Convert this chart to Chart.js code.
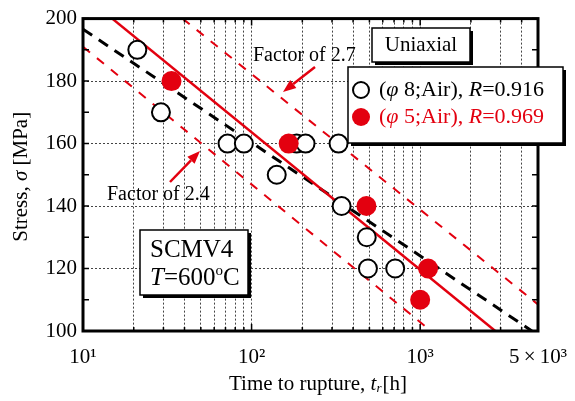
<!DOCTYPE html>
<html>
<head>
<meta charset="utf-8">
<script src="https://cdn.jsdelivr.net/npm/chart.js@4.4.1/dist/chart.umd.min.js"></script>
<style>
  html, body { margin: 0; padding: 0; background: #fff; }
  #wrap { width: 575px; height: 401px; }
</style>
</head>
<body>
<div id="wrap"><canvas id="chart" width="575" height="401"></canvas></div>
<script>
'use strict';

// phi 8 specimens, air (open circles)
let phi8Time = [21, 29, 72, 90, 141, 185, 209, 328, 342, 482, 490, 711];
let phi8Stress = [190, 170, 160, 160, 150, 160, 160, 160, 140, 130, 120, 120];

// phi 5 specimens, air (red dots)
let phi5Time = [33.5, 166, 480, 1114, 1000];
let phi5Stress = [180, 160, 140, 120, 110];

// fitted lines, end points
let fit8Time = [10, 4600];
let fit8Stress = [196.6, 100];
let fit5Time = [14.9, 2790];
let fit5Stress = [200, 100];
let upperTime = [39, 5000];      // factor of 2.7
let upperStress = [200, 108.5];
let lowerTime = [10, 1160];      // factor of 2.4
let lowerStress = [191, 100];

let xTicks = [10, 20, 30, 40, 50, 60, 70, 80, 90, 100, 200, 300, 400, 500, 600, 700, 800, 900, 1000, 2000, 3000, 4000, 5000];
let xLabels = { 10: '10¹', 100: '10²', 1000: '10³', 5000: '5\u2009×\u200910³' };
let yTicks = [100, 110, 120, 130, 140, 150, 160, 170, 180, 190, 200];

const RED = '#e3000f';
const FONT = "'Liberation Serif', 'Times New Roman', serif";

function points(xs, ys) {
    return xs.map((x, i) => ({ x: x, y: ys[i] }));
}

function shadowBox(ctx, x, y, w, h) {
    ctx.fillStyle = '#000';
    ctx.fillRect(x + 3, y + 3, w, h);
    ctx.fillStyle = '#fff';
    ctx.fillRect(x, y, w, h);
    ctx.strokeStyle = '#000';
    ctx.lineWidth = 1.5;
    ctx.strokeRect(x, y, w, h);
}

// draws pieces of text, some italic, left to right
function richText(ctx, x, y, parts, size, color) {
    ctx.fillStyle = color;
    ctx.textBaseline = 'middle';
    ctx.textAlign = 'left';
    parts.forEach(p => {
        ctx.font = (p.it ? 'italic ' : '') + size + 'px ' + FONT;
        ctx.fillText(p.t, x, y + (p.dy || 0));
        x += ctx.measureText(p.t).width;
    });
    return x;
}

function arrow(ctx, x1, y1, x2, y2) {
    let a = Math.atan2(y2 - y1, x2 - x1);
    let head = 13;
    ctx.strokeStyle = RED;
    ctx.fillStyle = RED;
    ctx.lineWidth = 2.5;
    ctx.beginPath();
    ctx.moveTo(x1, y1);
    ctx.lineTo(x2 - head * Math.cos(a), y2 - head * Math.sin(a));
    ctx.stroke();
    ctx.beginPath();
    ctx.moveTo(x2, y2);
    ctx.lineTo(x2 - head * Math.cos(a) + 5 * Math.sin(a), y2 - head * Math.sin(a) - 5 * Math.cos(a));
    ctx.lineTo(x2 - head * Math.cos(a) - 5 * Math.sin(a), y2 - head * Math.sin(a) + 5 * Math.cos(a));
    ctx.closePath();
    ctx.fill();
}

const decor = {
    id: 'decor',
    afterDatasetsDraw(chart) {
        const ctx = chart.ctx;
        const a = chart.chartArea;
        const xs = chart.scales.x;
        const ys = chart.scales.y;
        ctx.save();

        // frame
        ctx.strokeStyle = '#000';
        ctx.lineWidth = 3;
        ctx.setLineDash([]);
        ctx.strokeRect(a.left, a.top, a.right - a.left, a.bottom - a.top);

        // inward tick marks
        ctx.lineWidth = 1.5;
        ctx.beginPath();
        yTicks.forEach(v => {
            let py = ys.getPixelForValue(v);
            ctx.moveTo(a.left, py); ctx.lineTo(a.left + 6, py);
            ctx.moveTo(a.right, py); ctx.lineTo(a.right - 6, py);
        });
        xTicks.forEach(v => {
            let px = xs.getPixelForValue(v);
            let len = xLabels[v] ? 7 : 4;
            ctx.moveTo(px, a.bottom); ctx.lineTo(px, a.bottom - len);
            ctx.moveTo(px, a.top); ctx.lineTo(px, a.top + len);
        });
        ctx.stroke();

        // factor annotations
        arrow(ctx, 315, 67, 283, 92);
        arrow(ctx, 170, 182, 200, 151);
        richText(ctx, 253, 56, [{ t: 'Factor of 2.7' }], 20, '#000');
        richText(ctx, 107, 195, [{ t: 'Factor of 2.4' }], 20, '#000');

        // material box
        shadowBox(ctx, 140, 230, 108, 65);
        richText(ctx, 150, 250, [{ t: 'SCMV4' }], 25, '#000');
        let ex = richText(ctx, 150, 278, [{ t: 'T', it: true }, { t: '=600' }], 25, '#000');
        ex = richText(ctx, ex, 271, [{ t: 'o' }], 15, '#000');
        richText(ctx, ex, 278, [{ t: 'C' }], 25, '#000');

        // uniaxial box
        shadowBox(ctx, 372, 28, 98, 34);
        ctx.textAlign = 'center';
        ctx.font = '21px ' + FONT;
        ctx.fillStyle = '#000';
        ctx.fillText('Uniaxial', 421, 45);

        // legend
        shadowBox(ctx, 348, 67, 215, 76);
        ctx.lineWidth = 2;
        ctx.strokeStyle = '#000';
        ctx.fillStyle = '#fff';
        ctx.beginPath(); ctx.arc(361, 90, 8, 0, Math.PI * 2); ctx.fill(); ctx.stroke();
        ctx.fillStyle = RED;
        ctx.beginPath(); ctx.arc(361, 117, 9, 0, Math.PI * 2); ctx.fill();
        richText(ctx, 379, 90, [{ t: '(' }, { t: 'φ', it: true }, { t: ' 8;Air), ' }, { t: 'R', it: true }, { t: '=0.916' }], 22, '#000');
        richText(ctx, 379, 117, [{ t: '(' }, { t: 'φ', it: true }, { t: ' 5;Air), ' }, { t: 'R', it: true }, { t: '=0.969' }], 22, RED);

        // axis titles
        let tx = richText(ctx, 229, 384, [{ t: 'Time to rupture, ' }, { t: 't', it: true }], 21, '#000');
        tx = richText(ctx, tx, 389, [{ t: 'r', it: true }], 13, '#000');
        richText(ctx, tx + 1, 384, [{ t: '[h]' }], 21, '#000');

        ctx.translate(21, (a.top + a.bottom) / 2 + 2);
        ctx.rotate(-Math.PI / 2);
        let parts = [{ t: 'Stress, ' }, { t: 'σ', it: true }, { t: ' [MPa]' }];
        let w = 0;
        parts.forEach(p => {
            ctx.font = (p.it ? 'italic ' : '') + '21px ' + FONT;
            w += ctx.measureText(p.t).width;
        });
        richText(ctx, -w / 2, 0, parts, 21, '#000');

        ctx.restore();
    }
};

const canvasEl = document.getElementById('chart');

let chart = new Chart(canvasEl.getContext('2d'), {
    type: 'scatter',
    data: {
        datasets: [{
            label: '(φ5;Air), R=0.969',
            data: points(phi5Time, phi5Stress),
            pointRadius: 10,
            pointBackgroundColor: RED,
            pointBorderColor: RED,
            pointBorderWidth: 0,
            order: 0
        }, {
            label: '(φ8;Air), R=0.916',
            data: points(phi8Time, phi8Stress),
            pointRadius: 9,
            pointBackgroundColor: '#fff',
            pointBorderColor: '#000',
            pointBorderWidth: 2,
            order: 1
        }, {
            label: 'fit φ5',
            data: points(fit5Time, fit5Stress),
            showLine: true,
            pointRadius: 0,
            borderColor: RED,
            borderWidth: 2.5,
            order: 2
        }, {
            label: 'fit φ8',
            data: points(fit8Time, fit8Stress),
            showLine: true,
            pointRadius: 0,
            borderColor: '#000',
            borderWidth: 3,
            borderDash: [11, 8],
            order: 3
        }, {
            label: 'factor 2.7',
            data: points(upperTime, upperStress),
            showLine: true,
            pointRadius: 0,
            borderColor: RED,
            borderWidth: 2,
            borderDash: [9, 9],
            order: 4
        }, {
            label: 'factor 2.4',
            data: points(lowerTime, lowerStress),
            showLine: true,
            pointRadius: 0,
            borderColor: RED,
            borderWidth: 2,
            borderDash: [9, 9],
            order: 5
        }]
    },
    options: {
        responsive: false,
        devicePixelRatio: 1,
        animation: false,
        events: [],
        layout: { padding: { left: 0, right: 37, top: 17, bottom: 0 } },
        plugins: {
            legend: { display: false },
            tooltip: { enabled: false }
        },
        scales: {
            x: {
                type: 'logarithmic',
                min: 10,
                max: 5000,
                afterBuildTicks: s => { s.ticks = xTicks.map(v => ({ value: v })); },
                afterFit: s => {
                    s.height = 70;
                    s.paddingLeft = 0;
                    s.paddingRight = 0;
                },
                ticks: {
                    autoSkip: false,
                    maxRotation: 0,
                    minRotation: 0,
                    padding: 14,
                    color: '#000',
                    font: { family: FONT, size: 21 },
                    callback: v => xLabels[v] || ''
                },
                grid: {
                    drawTicks: false,
                    lineWidth: 1,
                    color: c => (c.tick && (c.tick.value === 10 || c.tick.value === 5000)) ? 'rgba(0,0,0,0)' : '#444'
                },
                border: { display: false, dash: [2, 2] }
            },
            y: {
                type: 'linear',
                min: 100,
                max: 200,
                afterBuildTicks: s => { s.ticks = yTicks.map(v => ({ value: v })); },
                afterFit: s => { s.width = 83; },
                ticks: {
                    padding: 6,
                    color: '#000',
                    font: { family: FONT, size: 21 },
                    callback: v => (v % 20 === 0 ? String(v) : '')
                },
                grid: {
                    drawTicks: false,
                    lineWidth: 1,
                    color: c => (c.tick && c.tick.value % 20 === 0 && c.tick.value !== 100 && c.tick.value !== 200) ? '#444' : 'rgba(0,0,0,0)'
                },
                border: { display: false, dash: [2, 2] }
            }
        }
    },
    plugins: [decor]
});
</script>
</body>
</html>
